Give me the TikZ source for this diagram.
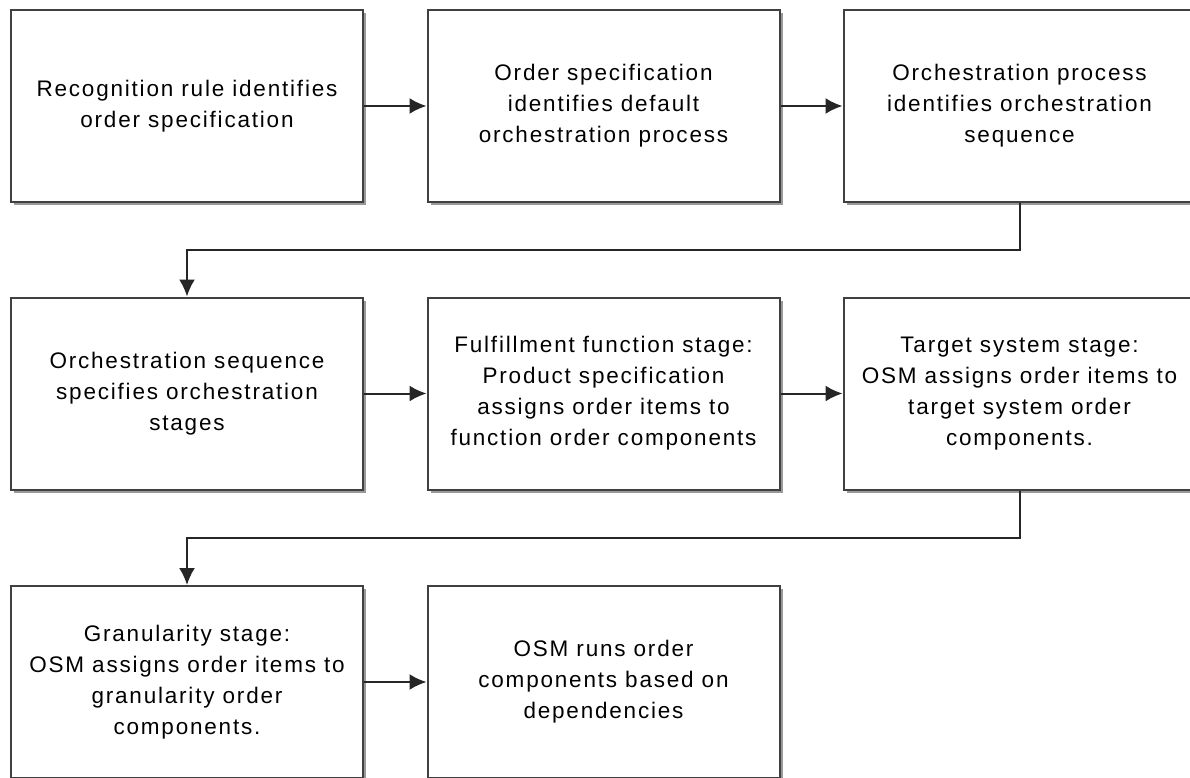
\documentclass[tikz,border=0pt]{standalone}
\usepackage{fontspec}
\setmainfont{Liberation Sans}[LetterSpace=8]
\usetikzlibrary{arrows.meta,shadows}
\definecolor{boxline}{HTML}{404040}
\begin{document}
\begin{tikzpicture}[x=1pt,y=-1pt,
  flowbox/.style={draw=boxline, line width=2pt, fill=white, rectangle,
    minimum width=352pt, minimum height=192pt, inner sep=0pt, align=center,
    font=\fontsize{22.5}{31}\selectfont,
    drop shadow={shadow xshift=3pt, shadow yshift=-3pt, fill=black, opacity=0.4}},
  conn/.style={draw=black!85, line width=2pt, -{Latex[length=17pt,width=16pt]}}
]
\useasboundingbox (0,0) rectangle (1190,778);
\node[flowbox] (b1) at (187,106) {Recognition rule identifies\\order specification};
\node[flowbox] (b2) at (603.5,106) {Order specification\\identifies default\\orchestration process};
\node[flowbox] (b3) at (1019.5,106) {Orchestration process\\identifies orchestration\\sequence};
\node[flowbox] (b4) at (187,393.5) {Orchestration sequence\\specifies orchestration\\stages};
\node[flowbox] (b5) at (603.5,393.5) {Fulfillment function stage:\\Product specification\\assigns order items to\\function order components};
\node[flowbox] (b6) at (1019.5,393.5) {Target system stage:\\OSM assigns order items to\\target system order\\components.};
\node[flowbox] (b7) at (187,682) {Granularity stage:\\OSM assigns order items to\\granularity order\\components.};
\node[flowbox] (b8) at (603.5,682) {OSM runs order\\components based on\\dependencies};
\coordinate (t1) at (1019.5,250);
\coordinate (t2) at (187,250);
\coordinate (u1) at (1019.5,538);
\coordinate (u2) at (187,538);
\draw[conn] (b1) -- (b2);
\draw[conn] (b2) -- (b3);
\draw[conn] (b3.south) -- (t1) -- (t2) -- (b4.north);
\draw[conn] (b4) -- (b5);
\draw[conn] (b5) -- (b6);
\draw[conn] (b6.south) -- (u1) -- (u2) -- (b7.north);
\draw[conn] (b7) -- (b8);
\end{tikzpicture}
\end{document}
